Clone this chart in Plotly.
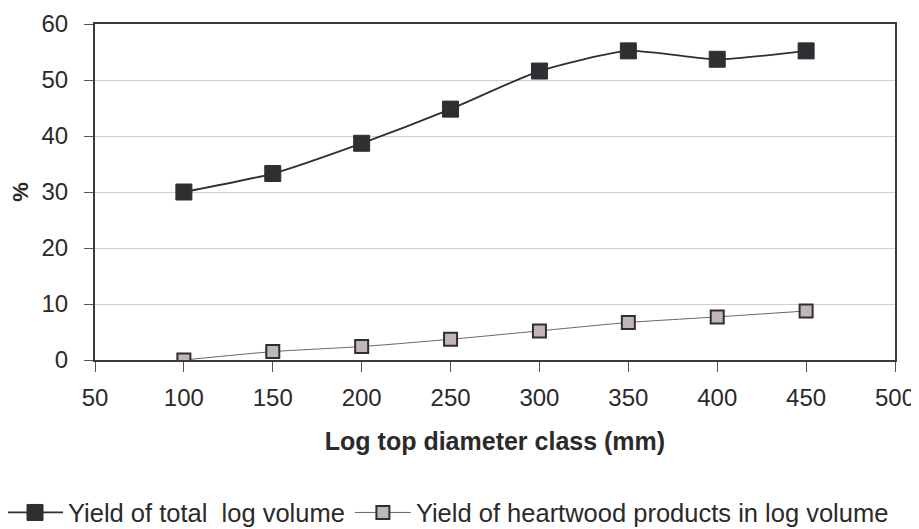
import plotly.graph_objects as go

diameter_class = [100, 150, 200, 250, 300, 350, 400, 450]
total_yield = [30.0, 33.3, 38.7, 44.8, 51.6, 55.2, 53.7, 55.2]
heartwood_yield = [0.0, 1.5, 2.4, 3.7, 5.2, 6.7, 7.7, 8.75]

x_ticks = [50, 100, 150, 200, 250, 300, 350, 400, 450, 500]
y_ticks = [0, 10, 20, 30, 40, 50, 60]

font_family = "Liberation Sans, Arial, sans-serif"
text_color = "#2a2a2a"

# page body has an 8px default margin, so the figure is offset by 8px
fig = go.Figure()
fig.add_trace(go.Scatter(
    x=diameter_class, y=total_yield, mode="lines+markers",
    name="Yield of total  log volume",
    line=dict(color="#2f2f33", width=1.8, shape="spline", smoothing=0.6),
    marker=dict(symbol="square", size=16, color="#2f2f33",
                line=dict(color="#2f2f33", width=1)),
))
fig.add_trace(go.Scatter(
    x=diameter_class, y=heartwood_yield, mode="lines+markers",
    name="Yield of heartwood products in log volume",
    line=dict(color="#555555", width=0.9, shape="spline", smoothing=0.6),
    marker=dict(symbol="square", size=13, color="#c2b7b4",
                line=dict(color="#2f2f33", width=2)),
))

fig.update_layout(
    width=911, height=521,
    margin=dict(l=87, r=24, t=16, b=169, autoexpand=False),
    paper_bgcolor="white", plot_bgcolor="white",
    font=dict(family=font_family, color=text_color, size=24),
    showlegend=True,
    legend=dict(orientation="h", x=-0.11625, xanchor="left", y=-0.455, yanchor="middle",
                font=dict(size=25.5, family=font_family, color=text_color),
                itemwidth=56, tracegroupgap=0,
                bgcolor="rgba(0,0,0,0)"),
    xaxis=dict(
        range=[50, 500], tickvals=x_ticks, ticktext=[str(v) for v in x_ticks],
        showline=True, linecolor="#3a3a3a", linewidth=2, mirror=True,
        ticks="outside", ticklen=10, tickcolor="#555555",
        showgrid=False, zeroline=False, automargin=False,
        title=dict(text="<b>Log top diameter class (mm)</b>", font=dict(size=25), standoff=23),
        tickfont=dict(size=24),
        ticklabelstandoff=5,
    ),
    yaxis=dict(
        range=[0, 60], tickvals=y_ticks,
        showline=True, linecolor="#3a3a3a", linewidth=2, mirror=True,
        ticks="outside", ticklen=9, tickcolor="#555555",
        showgrid=True, gridcolor="#d6cccc", gridwidth=1, zeroline=False,
        automargin=False,
        title=dict(text="<b>%</b>", font=dict(size=22), standoff=13),
        tickfont=dict(size=24),
        ticklabelstandoff=11,
    ),
)

fig.write_html("out.html")
